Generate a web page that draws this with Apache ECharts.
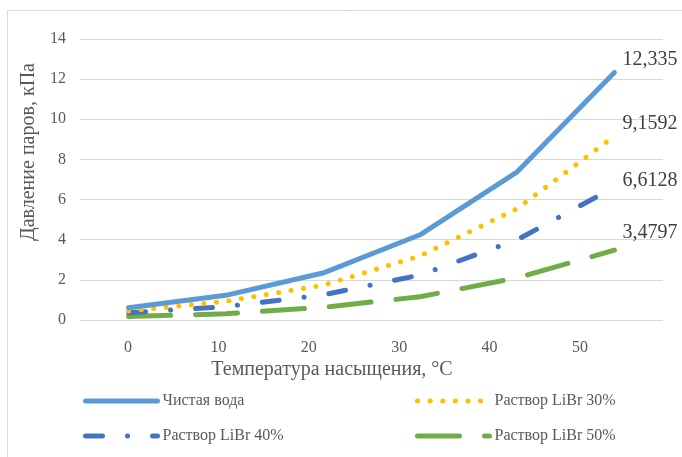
<!DOCTYPE html>
<html>
<head>
<meta charset="utf-8">
<script src="https://cdn.jsdelivr.net/npm/echarts@6/dist/echarts.min.js"></script>
<style>html,body{margin:0;padding:0;background:#fff}#c{width:682px;height:457px}</style>
</head>
<body>
<div id="c"></div>
<script>
// ---- data ----
const temps = ['0', '10', '20', '30', '40', '50'];
const xTickLabels = ['0', '10', '20', '30', '40', '50'];
const water  = [0.6113, 1.2281, 2.3388, 4.2455, 7.3814, 12.335];
const libr30 = [0.45, 0.93, 1.73, 3.19, 5.55, 9.1592];
const libr40 = [0.36, 0.67, 1.25, 2.24, 4.0, 6.6128];
const libr50 = [0.17, 0.31, 0.63, 1.16, 2.1, 3.4797];
const names  = ['Чистая вода', 'Раствор LiBr 30%', 'Раствор LiBr 40%', 'Раствор LiBr 50%'];
const yTitle = 'Давление паров, кПа';
const xTitle = 'Температура насыщения, °C';

const FONT = "'Liberation Serif', 'Times New Roman', serif";

function endLabel(offsetY) {
  return {
    show: true, distance: 5, offset: [3, offsetY],
    formatter: p => String(p.value).replace('.', ','),
    fontFamily: FONT, fontSize: 20, color: '#404040'
  };
}

const legendCommon = {
  orient: 'vertical', top: 393, padding: 0, itemWidth: 72, itemHeight: 16, itemGap: 19,
  itemStyle: {opacity: 0},
  lineStyle: {width: 5, cap: 'round'},
  textStyle: {fontFamily: FONT, fontSize: 16, color: '#595959', lineHeight: 16}
};

const chart = echarts.init(document.getElementById('c'), null, {renderer: 'canvas'});
chart.setOption({
  animation: false,
  backgroundColor: '#fff',
  textStyle: {fontFamily: FONT},
  grid: [
    {left: 80, right: 19, top: 39, bottom: 137},
    {left: 82.8, right: 56.8, top: 39, bottom: 137}
  ],
  xAxis: [
    {type: 'category', gridIndex: 0, data: temps, boundaryGap: true,
     axisLine: {show: false}, axisTick: {show: false}, axisLabel: {show: false}, splitLine: {show: false}},
    {type: 'category', gridIndex: 1, data: xTickLabels, boundaryGap: true,
     axisLine: {show: false}, axisTick: {show: false}, splitLine: {show: false},
     axisLabel: {show: true, margin: 20, fontFamily: FONT, fontSize: 16, color: '#595959'}}
  ],
  yAxis: [
    {type: 'value', gridIndex: 0, min: 0, max: 14, interval: 2,
     axisLine: {show: false}, axisTick: {show: false},
     axisLabel: {margin: 14, fontFamily: FONT, fontSize: 16, color: '#595959'},
     splitLine: {lineStyle: {color: '#D9D9D9', width: 1}}},
    {type: 'value', gridIndex: 1, min: 0, max: 14, show: false}
  ],
  legend: [
    Object.assign({data: [names[0], names[2]], left: 83}, legendCommon),
    Object.assign({data: [names[1], names[3]], left: 415}, legendCommon)
  ],
  graphic: [
    {type: 'rect', shape: {x: 7.5, y: 10.5, width: 800, height: 600}, style: {fill: 'none', stroke: '#D9D9D9', lineWidth: 1}, silent: true, z: -1},
    {type: 'text', x: 29, y: 152, rotation: Math.PI / 2,
     style: {text: yTitle, fontFamily: FONT, fontSize: 20, fill: '#595959', align: 'center', verticalAlign: 'middle'}},
    {type: 'text', x: 332, y: 370,
     style: {text: xTitle, fontFamily: FONT, fontSize: 20, fill: '#595959', align: 'center', verticalAlign: 'middle'}}
  ],
  series: [
    {name: names[0], type: 'line', data: water, symbol: 'none', endLabel: endLabel(-13),
     lineStyle: {color: '#5B9BD5', width: 5, cap: 'round', join: 'round'}, itemStyle: {color: '#5B9BD5'}, z: 4},
    {name: names[1], type: 'line', data: libr30, symbol: 'none', endLabel: endLabel(-12),
     lineStyle: {color: '#FFC000', width: 5, type: [0.1, 12.5], cap: 'round', join: 'round'}, itemStyle: {color: '#FFC000'}, z: 3},
    {name: names[2], type: 'line', data: libr40, symbol: 'none', endLabel: endLabel(-7),
     lineStyle: {color: '#4472C4', width: 5, type: [17, 25, 0.1, 25], cap: 'round', join: 'round'}, itemStyle: {color: '#4472C4'}, z: 2},
    {name: names[3], type: 'line', data: libr50, symbol: 'none', endLabel: endLabel(-17),
     lineStyle: {color: '#70AD47', width: 5, type: [42, 25], cap: 'round', join: 'round'}, itemStyle: {color: '#70AD47'}, z: 1}
  ]
});
</script>
</body>
</html>
